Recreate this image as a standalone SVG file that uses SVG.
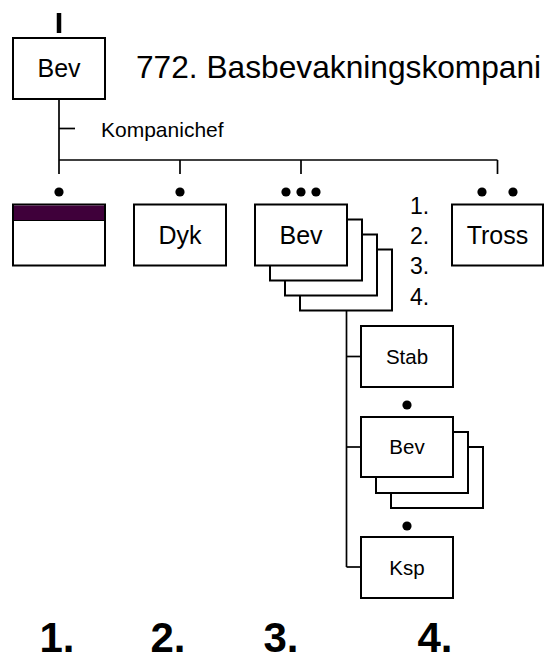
<svg xmlns="http://www.w3.org/2000/svg" width="560" height="661" viewBox="0 0 560 661">
<style>
  .box { fill: #ffffff; stroke: #000000; stroke-width: 2; }
  .ln { fill: none; stroke: #000000; stroke-width: 1.7; }
  .dot { fill: #000000; }
  text { font-family: "Liberation Sans", Arial, sans-serif; fill: #000000; }
  .lbl { font-size: 25px; text-anchor: middle; }
  .sub { font-size: 20.5px; text-anchor: middle; }
  .num { font-size: 23px; }
  .big { font-size: 42px; font-weight: bold; text-anchor: middle; }
</style>
<rect width="560" height="661" fill="#ffffff"/>

<g id="connectors">
  <line class="ln" x1="59" y1="99" x2="59" y2="160"/>
  <line class="ln" x1="59" y1="128.5" x2="75" y2="128.5"/>
  <line class="ln" x1="59" y1="160" x2="497.5" y2="160"/>
  <line class="ln" x1="59" y1="160" x2="59" y2="174"/>
  <line class="ln" x1="180" y1="160" x2="180" y2="174"/>
  <line class="ln" x1="301" y1="160" x2="301" y2="174"/>
  <line class="ln" x1="497.5" y1="160" x2="497.5" y2="174"/>
  <line class="ln" x1="346.5" y1="311" x2="346.5" y2="567"/>
  <line class="ln" x1="346.5" y1="356.5" x2="361" y2="356.5"/>
  <line class="ln" x1="346.5" y1="447" x2="361" y2="447"/>
  <line class="ln" x1="346.5" y1="567" x2="361" y2="567"/>
</g>

<g id="hq">
  <line x1="59" y1="13" x2="59" y2="33" stroke="#000000" stroke-width="4.5"/>
  <rect class="box" x="13" y="38" width="92" height="61"/>
  <text class="lbl" x="59" y="77">Bev</text>
</g>

<g id="title">
  <text x="136" y="78" font-size="31.7px">772. Basbevakningskompani</text>
</g>

<g id="kompanichef">
  <text x="101" y="136.5" font-size="21px">Kompanichef</text>
</g>

<g id="unit1">
  <circle class="dot" cx="59" cy="192" r="4.6"/>
  <rect class="box" x="13" y="204.5" width="92" height="61"/>
  <rect x="14" y="205.5" width="90" height="15" fill="#3f003a"/>
  <line x1="13" y1="220.5" x2="105" y2="220.5" stroke="#000000" stroke-width="1"/>
</g>

<g id="unit2">
  <circle class="dot" cx="180" cy="192" r="4.6"/>
  <rect class="box" x="134" y="204.5" width="92" height="61"/>
  <text class="lbl" x="180" y="244">Dyk</text>
</g>

<g id="unit3">
  <circle class="dot" cx="286" cy="192" r="4.6"/>
  <circle class="dot" cx="301" cy="192" r="4.6"/>
  <circle class="dot" cx="316" cy="192" r="4.6"/>
  <rect class="box" x="300" y="249.5" width="92" height="61"/>
  <rect class="box" x="285" y="234.5" width="92" height="61"/>
  <rect class="box" x="270" y="219.5" width="92" height="61"/>
  <rect class="box" x="255" y="204.5" width="92" height="61"/>
  <text class="lbl" x="301" y="244">Bev</text>
</g>

<g id="numbers">
  <text class="num" x="410" y="213.5">1.</text>
  <text class="num" x="410" y="243.5">2.</text>
  <text class="num" x="410" y="274">3.</text>
  <text class="num" x="410" y="304.5">4.</text>
</g>

<g id="unit4">
  <circle class="dot" cx="482" cy="192" r="4.6"/>
  <circle class="dot" cx="513" cy="192" r="4.6"/>
  <rect class="box" x="452" y="204.5" width="91" height="61"/>
  <text class="lbl" x="497.5" y="244">Tross</text>
</g>

<g id="stab">
  <rect class="box" x="361" y="326" width="92" height="61"/>
  <text class="sub" x="407" y="363.5">Stab</text>
</g>

<g id="subbev">
  <circle class="dot" cx="407" cy="405" r="4.6"/>
  <rect class="box" x="391" y="447" width="92" height="61"/>
  <rect class="box" x="376" y="432" width="92" height="61"/>
  <rect class="box" x="361" y="417" width="92" height="60"/>
  <text class="sub" x="407" y="454">Bev</text>
</g>

<g id="ksp">
  <circle class="dot" cx="407" cy="526" r="4.6"/>
  <rect class="box" x="361" y="537" width="92" height="61"/>
  <text class="sub" x="407" y="575">Ksp</text>
</g>

<g id="legend">
  <text class="big" x="57" y="652">1.</text>
  <text class="big" x="168" y="652">2.</text>
  <text class="big" x="281" y="652">3.</text>
  <text class="big" x="435" y="652">4.</text>
</g>
</svg>
